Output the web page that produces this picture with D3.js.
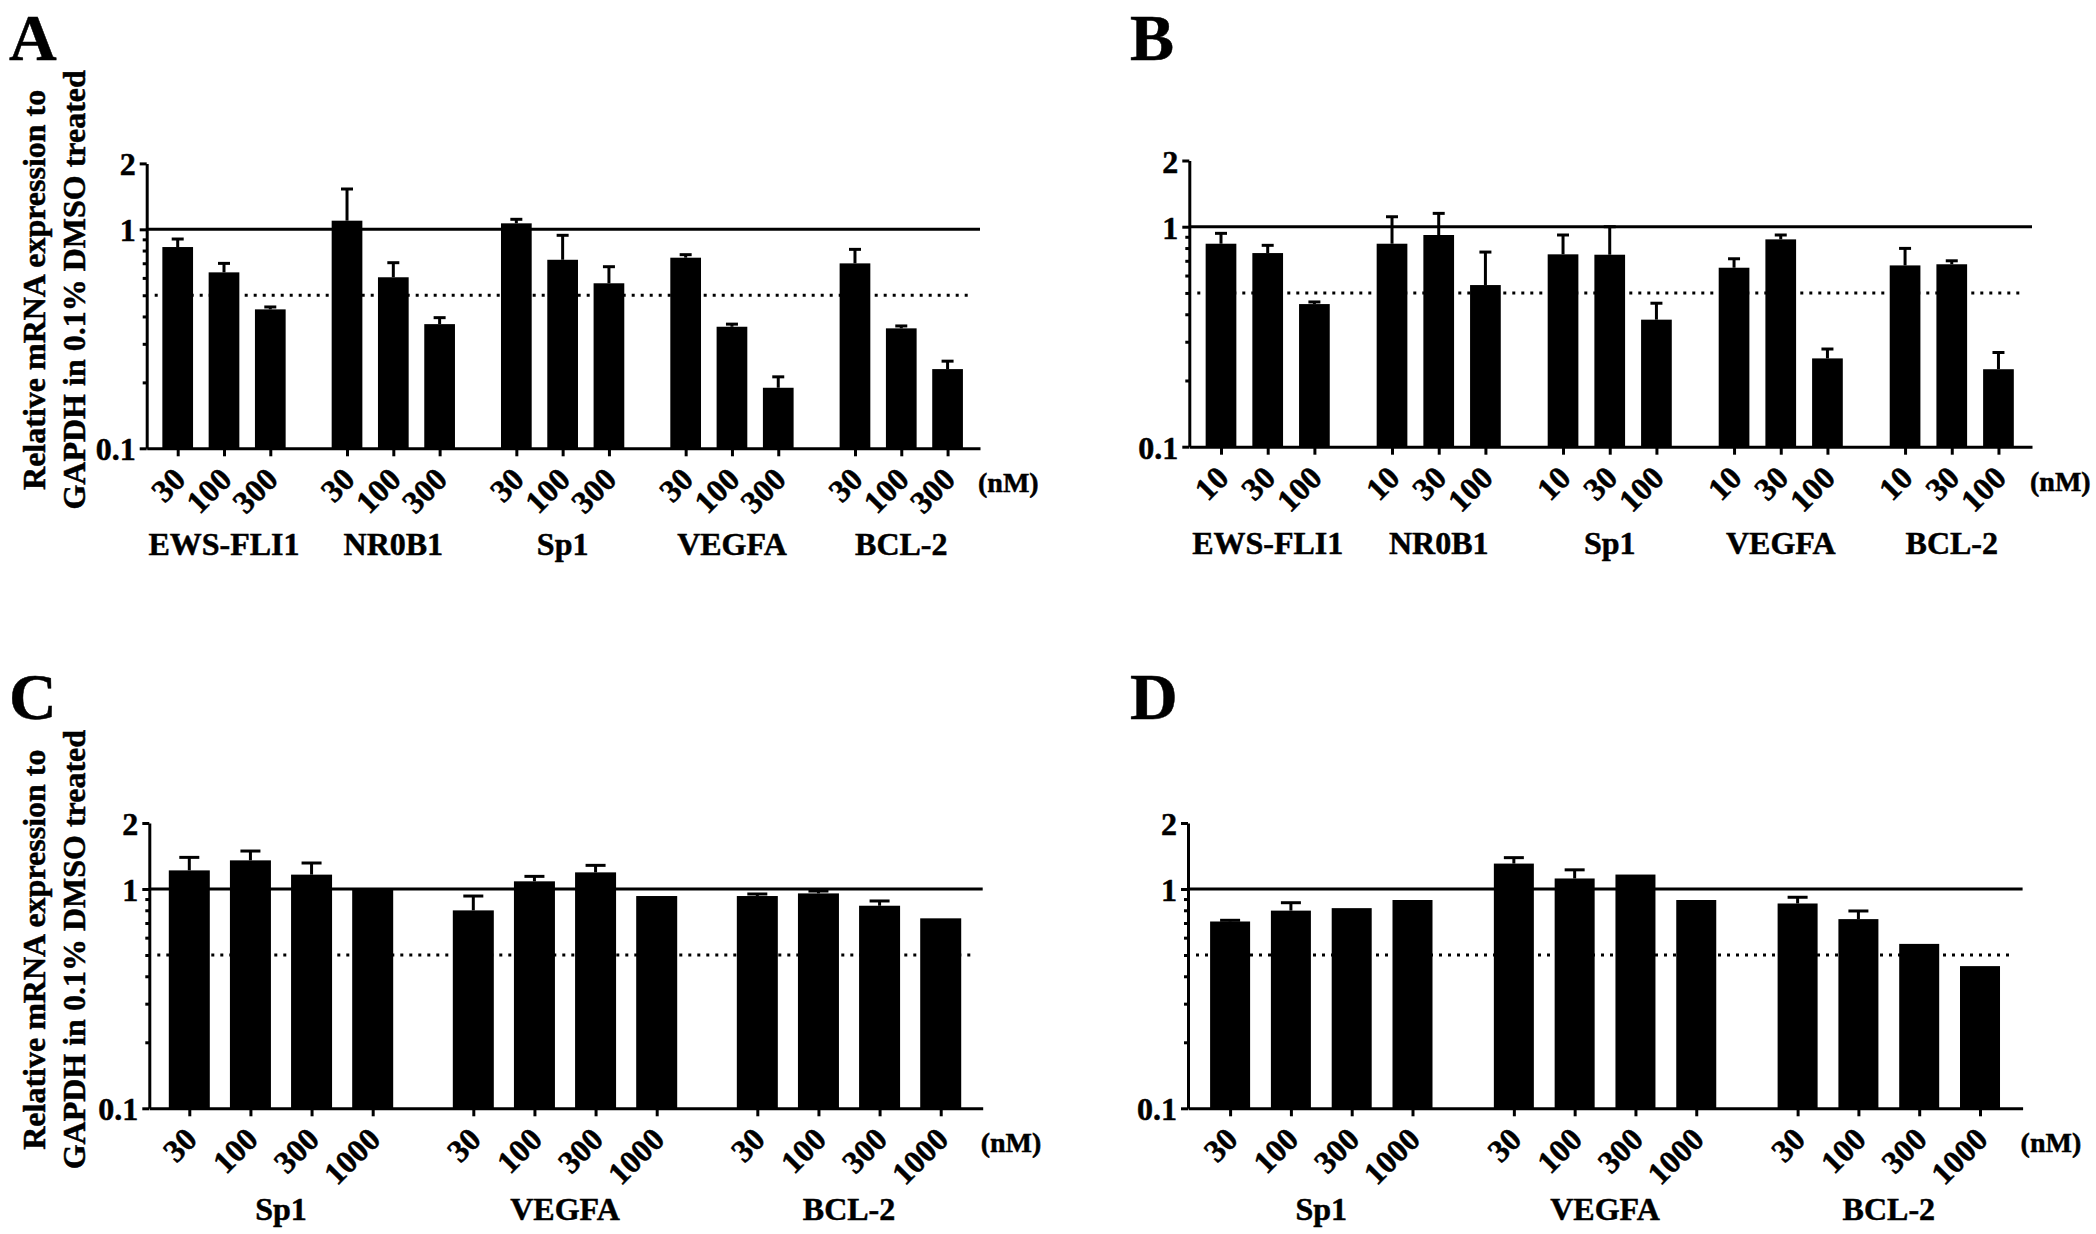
<!DOCTYPE html>
<html>
<head>
<meta charset="utf-8">
<script src="https://cdn.jsdelivr.net/npm/d3@7"></script>
<style>
  html, body { margin: 0; padding: 0; background: #fff; }
  svg { display: block; }
  text { font-family: "Liberation Serif", "Times New Roman", serif; font-weight: bold; fill: #000; stroke: #000; stroke-width: 0.5px; }
</style>
</head>
<body>
<svg id="chart" width="2096" height="1234"></svg>
<script>
// ---------------- DATA ----------------
const panelLetters = ["A", "B", "C", "D"];
const yLabelLines = ["Relative mRNA expression to", "GAPDH in 0.1% DMSO treated"];
const unitLabel = "(nM)";

const genesAB = ["EWS-FLI1", "NR0B1", "Sp1", "VEGFA", "BCL-2"];
const genesCD = ["Sp1", "VEGFA", "BCL-2"];
const dosesA = ["30", "100", "300"];
const dosesB = ["10", "30", "100"];
const dosesCD = ["30", "100", "300", "1000"];

const yTickValues = [0.1, 1, 2];
const yTickLabels = ["0.1", "1", "2"];
const yMinorTicks = [0.2, 0.3, 0.4, 0.5, 0.6, 0.7, 0.8, 0.9];
const solidRef = 1;
const dottedRef = 0.5;

// means (rows = genes, cols = doses)
const meanA = [
  [0.830, 0.636, 0.431],
  [1.095, 0.604, 0.369],
  [1.065, 0.726, 0.567],
  [0.742, 0.359, 0.189],
  [0.699, 0.353, 0.230]
];
const errA = [
  [0.073, 0.063, 0.011],
  [0.433, 0.100, 0.026],
  [0.046, 0.213, 0.108],
  [0.024, 0.010, 0.023],
  [0.111, 0.009, 0.020]
];
const meanB = [
  [0.837, 0.759, 0.445],
  [0.837, 0.917, 0.543],
  [0.749, 0.746, 0.378],
  [0.651, 0.876, 0.252],
  [0.667, 0.675, 0.225]
];
const errB = [
  [0.096, 0.064, 0.010],
  [0.273, 0.233, 0.224],
  [0.168, 0.254, 0.071],
  [0.064, 0.041, 0.026],
  [0.130, 0.025, 0.043]
];
const meanC = [
  [1.216, 1.351, 1.163, 1.000],
  [0.799, 1.084, 1.191, 0.929],
  [0.929, 0.955, 0.839, 0.735]
];
const errC = [
  [0.178, 0.139, 0.151, 0],
  [0.130, 0.058, 0.091, 0],
  [0.020, 0.024, 0.043, 0]
];
const meanD = [
  [0.711, 0.797, 0.818, 0.891],
  [1.306, 1.117, 1.164, 0.891],
  [0.859, 0.729, 0.562, 0.445]
];
const errD = [
  [0.009, 0.069, 0, 0],
  [0.084, 0.106, 0, 0],
  [0.058, 0.065, 0, 0]
];

// ---------------- LAYOUT ----------------
const layouts = [
  { letter: 0, genes: genesAB, doses: dosesA, mean: meanA, err: errA, yLabel: true,
    x0: 146.7, xEnd: 980, top: 163.4, bottom: 448.3, first: 177.7, step: 46.3, gap: 0.657, barW: 30.7, capW: 12,
    letterX: 9, letterY: 60, groupDy: 107 },
  { letter: 1, genes: genesAB, doses: dosesB, mean: meanB, err: errB, yLabel: false,
    x0: 1189.3, xEnd: 2032, top: 160.5, bottom: 446.7, first: 1221, step: 46.7, gap: 0.662, barW: 30.7, capW: 12,
    letterX: 1130, letterY: 60, groupDy: 107 },
  { letter: 2, genes: genesCD, doses: dosesCD, mean: meanC, err: errC, yLabel: true,
    x0: 149.3, xEnd: 982.7, top: 823, bottom: 1108.3, first: 189.3, step: 61.13, gap: 0.646, barW: 41, capW: 20,
    letterX: 9, letterY: 719, groupDy: 112 },
  { letter: 3, genes: genesCD, doses: dosesCD, mean: meanD, err: errD, yLabel: false,
    x0: 1188, xEnd: 2022.6, top: 823, bottom: 1108.3, first: 1230.1, step: 60.8, gap: 0.667, barW: 40, capW: 20,
    letterX: 1130, letterY: 719, groupDy: 112 }
];

const svg = d3.select("#chart");
const FS = 32;

layouts.forEach(L => {
  const g = svg.append("g");
  const n = L.doses.length;
  const period = n + L.gap;

  const y = d3.scaleLog().domain([0.1, 2]).range([L.bottom, L.top]);
  const x = d3.scaleLinear().domain([0, 1]).range([L.first, L.first + L.step]);

  const items = [];
  L.genes.forEach((gene, gi) => {
    L.doses.forEach((dose, di) => {
      items.push({ gi, di, pos: gi * period + di, v: L.mean[gi][di], e: L.err[gi][di], dose });
    });
  });

  // panel letter
  g.append("text").attr("x", L.letterX).attr("y", L.letterY)
    .attr("font-size", 66).text(panelLetters[L.letter]);

  // y axis label
  if (L.yLabel) {
    const cy = (L.top + L.bottom) / 2 - 16;
    [45, 85].forEach((bx, i) => {
      g.append("text")
        .attr("transform", `translate(${bx},${cy}) rotate(-90)`)
        .attr("text-anchor", "middle")
        .attr("font-size", FS)
        .text(yLabelLines[i]);
    });
  }

  // dotted reference line
  g.append("line")
    .attr("x1", L.x0 + 8).attr("x2", L.xEnd - 8)
    .attr("y1", y(dottedRef)).attr("y2", y(dottedRef))
    .attr("stroke", "#000").attr("stroke-width", 3)
    .attr("stroke-dasharray", "3,6");

  // bars
  g.selectAll("rect.bar").data(items).join("rect")
    .attr("class", "bar")
    .attr("x", d => x(d.pos) - L.barW / 2)
    .attr("width", L.barW)
    .attr("y", d => y(d.v))
    .attr("height", d => L.bottom - y(d.v))
    .attr("fill", "#000");

  // error bars (upper only)
  const eb = items.filter(d => d.e > 0);
  g.selectAll("line.err").data(eb).join("line")
    .attr("class", "err")
    .attr("x1", d => x(d.pos)).attr("x2", d => x(d.pos))
    .attr("y1", d => y(d.v)).attr("y2", d => y(d.v + d.e))
    .attr("stroke", "#000").attr("stroke-width", 3);
  g.selectAll("line.cap").data(eb).join("line")
    .attr("class", "cap")
    .attr("x1", d => x(d.pos) - L.capW / 2).attr("x2", d => x(d.pos) + L.capW / 2)
    .attr("y1", d => y(d.v + d.e)).attr("y2", d => y(d.v + d.e))
    .attr("stroke", "#000").attr("stroke-width", 3);

  // solid reference line at 1
  g.append("line")
    .attr("x1", L.x0).attr("x2", L.xEnd)
    .attr("y1", y(solidRef)).attr("y2", y(solidRef))
    .attr("stroke", "#000").attr("stroke-width", 3);

  // y axis (major)
  const yAx = g.append("g").attr("transform", `translate(${L.x0},0)`)
    .call(d3.axisLeft(y).tickValues(yTickValues).tickSize(7).tickSizeOuter(0).tickPadding(4)
      .tickFormat((d, i) => yTickLabels[i]));
  yAx.select(".domain").attr("stroke-width", 3);
  yAx.selectAll(".tick line").attr("stroke-width", 3);
  yAx.selectAll(".tick text").attr("font-size", FS).attr("font-family", null).attr("dy", "0.36em");

  // y axis (minor)
  const yMin = g.append("g").attr("transform", `translate(${L.x0},0)`)
    .call(d3.axisLeft(y).tickValues(yMinorTicks).tickSize(4).tickFormat(""));
  yMin.select(".domain").remove();
  yMin.selectAll(".tick line").attr("stroke-width", 3);

  // x axis
  const xa = x.copy().domain([x.invert(L.x0), x.invert(L.xEnd)]).range([L.x0, L.xEnd]);
  const xAx = g.append("g").attr("transform", `translate(0,${L.bottom})`)
    .call(d3.axisBottom(xa).tickValues(items.map(d => d.pos)).tickSize(8).tickSizeOuter(0)
      .tickFormat((d, i) => items[i].dose));
  xAx.select(".domain").attr("stroke-width", 3);
  xAx.selectAll(".tick line").attr("stroke-width", 3);
  xAx.selectAll(".tick text")
    .attr("font-size", FS).attr("font-family", null)
    .attr("x", 0).attr("y", 0).attr("dy", null)
    .attr("text-anchor", "end")
    .attr("transform", "translate(9,33) rotate(-45)");

  // unit label
  g.append("text").attr("x", L.xEnd - 2).attr("y", L.bottom + 44)
    .attr("font-size", 28).text(unitLabel);

  // group labels
  L.genes.forEach((gene, gi) => {
    const cx = (x(gi * period) + x(gi * period + n - 1)) / 2;
    g.append("text").attr("x", cx).attr("y", L.bottom + L.groupDy)
      .attr("text-anchor", "middle").attr("font-size", FS).text(gene);
  });
});
</script>
</body>
</html>
